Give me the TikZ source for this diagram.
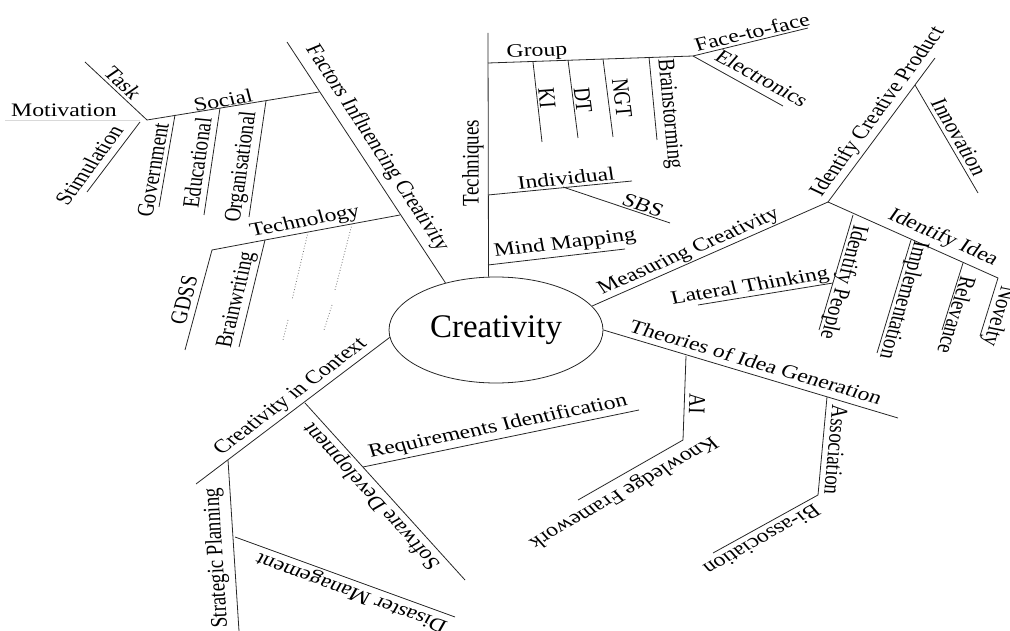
\documentclass[tikz,border=0pt]{standalone}
\usepackage{fontspec}
\setmainfont{Liberation Serif}
\usetikzlibrary{shapes.geometric}
\newcommand\labfont{\fontsize{19}{19}\selectfont}
\tikzset{
  ln/.style={draw=black!85, line width=0.8pt},
  faint/.style={draw=black!15, line width=0.8pt},
  dots/.style={draw=black!55, line width=0.8pt, dotted},
  lab/.style={inner sep=0pt, font=\labfont, xscale=1.25},
  ang/.style={rotate={atan2(sin(#1),cos(#1)/1.25)}},
}
\begin{document}
\begin{tikzpicture}[x=1pt,y=-1pt]
\useasboundingbox (0,0) rectangle (1010,631);
% centre
\node[draw=black!85, line width=0.8pt, ellipse, minimum width=214pt, minimum height=106pt, inner sep=0pt, font=\fontsize{33}{33}\selectfont] (C) at (496,330) {Creativity};

% ---------- Factors Influencing Creativity ----------
\coordinate (f1) at (287,42);
\coordinate (fs) at (319,92);
\coordinate (ft) at (400,215);
\draw[ln] (f1) -- (C.137);
\node[lab, ang=-56.8] (tFIC) at (377,148) {Factors Influencing Creativity};

\coordinate (s0) at (147,120);
\draw[ln] (s0) -- (fs);
\node[lab, ang=9.5] (tSoc) at (223,100) {Social};
\coordinate (gv1) at (175,115); \coordinate (gv2) at (159,207);
\coordinate (ed1) at (220,108); \coordinate (ed2) at (204,215);
\coordinate (or1) at (266,101); \coordinate (or2) at (249,217);
\draw[ln] (gv1) -- (gv2);
\draw[ln] (ed1) -- (ed2);
\draw[ln] (or1) -- (or2);
\node[lab, ang=80] (tGov) at (153,170) {Government};
\node[lab, ang=81.5] (tEdu) at (197,163) {Educational};
\node[lab, ang=81.7] (tOrg) at (242,167) {Organisational};

\coordinate (tk) at (85,62);
\coordinate (mv1) at (5,120); \coordinate (mv2) at (140,120);
\coordinate (st1) at (140,122); \coordinate (st2) at (87,192);
\draw[ln] (tk) -- (s0);
\draw[faint] (mv1) -- (mv2);
\draw[ln] (st1) -- (st2);
\node[lab, ang=-43] (tTask) at (123,83) {Task};
\node[lab, ang=0] (tMot) at (64,110) {Motivation};
\node[lab, ang=53.4] (tStim) at (89,165) {Stimulation};

\coordinate (tj) at (265,240);
\coordinate (gd1) at (212,250); \coordinate (gd2) at (185,350);
\coordinate (bw) at (239,347);
\draw[ln] (ft) -- (tj) -- (gd1) -- (gd2);
\draw[ln] (tj) -- (bw);
\node[lab, ang=10.5] (tTech) at (305,222) {Technology};
\node[lab, ang=75] (tGDSS) at (184,300) {GDSS};
\node[lab, ang=76.2] (tBw) at (237,300) {Brainwriting};
\coordinate (da1) at (308,232); \coordinate (da2) at (292,300);
\coordinate (da3) at (288,320); \coordinate (da4) at (283,340);
\coordinate (db1) at (352,224); \coordinate (db2) at (335,290);
\coordinate (db3) at (332,305); \coordinate (db4) at (324,330);
\draw[dots] (da1) -- (da2) (da3) -- (da4) (db1) -- (db2) (db3) -- (db4);

% ---------- Techniques ----------
\coordinate (tq) at (488,33);
\draw[ln] (tq) -- (C.98);
\node[lab, ang=90] (tTq) at (473,163) {Techniques};
\coordinate (gj) at (488,63); \coordinate (g2) at (693,56);
\draw[ln] (gj) -- (g2);
\node[lab, ang=2] (tGroup) at (537,52) {Group};
\coordinate (ff) at (808,28);
\coordinate (el) at (783,106);
\draw[ln] (g2) -- (ff);
\draw[ln] (g2) -- (el);
\node[lab, ang=13.2] (tFF) at (752,32) {Face-to-face};
\node[lab, ang=-29] (tEl) at (762,78) {Electronics};
\coordinate (ki1) at (533,62); \coordinate (ki2) at (542,142);
\coordinate (dt1) at (568,60); \coordinate (dt2) at (578,138);
\coordinate (ng1) at (603,59); \coordinate (ng2) at (613,137);
\coordinate (bs1) at (649,57); \coordinate (bs2) at (657,140);
\draw[ln] (ki1) -- (ki2);
\draw[ln] (dt1) -- (dt2);
\draw[ln] (ng1) -- (ng2);
\draw[ln] (bs1) -- (bs2);
\node[lab, ang=-83.6] (tKI) at (547,98) {KI};
\node[lab, ang=-82.7] (tDT) at (583,100) {DT};
\node[lab, ang=-82.7] (tNGT) at (622,98) {NGT};
\node[lab, ang=-84.5] (tBs) at (669,114) {Brainstorming};
\coordinate (iv1) at (488,195); \coordinate (iv2) at (632,181);
\coordinate (sb1) at (563,187); \coordinate (sb2) at (670,223);
\draw[ln] (iv1) -- (iv2);
\draw[ln] (sb1) -- (sb2);
\node[lab, ang=5.5] (tInd) at (566,178) {Individual};
\node[lab, ang=-18.6] (tSBS) at (643,205) {SBS};
\coordinate (mm1) at (488,265); \coordinate (mm2) at (625,249);
\draw[ln] (mm1) -- (mm2);
\node[lab, ang=6.7] (tMM) at (565,244) {Mind Mapping};

% ---------- Measuring Creativity ----------
\coordinate (mj) at (828,202);
\draw[ln] (C.14) -- (mj);
\node[lab, ang=23.4] (tMC) at (689,252) {Measuring Creativity};
\coordinate (lt1) at (698,305); \coordinate (lt2) at (833,283);
\draw[ln] (lt1) -- (lt2);
\node[lab, ang=9.3] (tLT) at (750,287) {Lateral Thinking};
\coordinate (ii) at (998,278);
\coordinate (nv) at (980,336);
\draw[ln] (mj) -- (ii) -- (nv);
\node[lab, ang=-24.1] (tII) at (943,238) {Identify Idea};
\coordinate (ip1) at (853,215); \coordinate (ip2) at (819,330);
\coordinate (im1) at (911,240); \coordinate (im2) at (877,353);
\coordinate (rl1) at (963,263); \coordinate (rl2) at (942,330);
\draw[ln] (ip1) -- (ip2);
\draw[ln] (im1) -- (im2);
\draw[ln] (rl1) -- (rl2);
\node[lab, ang=-106.5] (tIP) at (843,282) {Identify People};
\node[lab, ang=-106.7] (tImp) at (903,300) {Implementation};
\node[lab, ang=-107.4] (tRel) at (957,315) {Relevance};
\node[lab, ang=-107.2] (tNov) at (998,316) {Novelty};
\coordinate (icp) at (935,58);
\draw[ln] (mj) -- (icp);
\node[lab, ang=53.4] (tICP) at (878,112) {Identify Creative Product};
\coordinate (in1) at (915,85); \coordinate (in2) at (978,193);
\draw[ln] (in1) -- (in2);
\node[lab, ang=-59.7] (tInn) at (959,137) {Innovation};

% ---------- Theories of Idea Generation ----------
\coordinate (th) at (898,418);
\draw[ln] (C.-0.5) -- (th);
\node[lab, ang=-16.4] (tTh) at (756,362) {Theories of Idea Generation};
\coordinate (ai1) at (686,356); \coordinate (ai2) at (683,440);
\coordinate (kf) at (578,500);
\draw[ln] (ai1) -- (ai2) -- (kf);
\node[lab, ang=-92] (tAI) at (697,404) {AI};
\node[lab, ang=-150.3] (tKF) at (623,492) {Knowledge Framework};
\coordinate (as1) at (827,397); \coordinate (as2) at (818,495);
\coordinate (ba) at (713,553);
\draw[ln] (as1) -- (as2) -- (ba);
\node[lab, ang=-95.3] (tAs) at (836,450) {Association};
\node[lab, ang=-151] (tBa) at (762,540) {Bi-association};

% ---------- Creativity in Context ----------
\coordinate (cx) at (196,484);
\draw[ln] (C.184) -- (cx);
\node[lab, ang=37] (tCx) at (291,397) {Creativity in Context};
\coordinate (sd1) at (305,403); \coordinate (sd2) at (465,580);
\draw[ln] (sd1) -- (sd2);
\node[lab, ang=132.1] (tSD) at (372,496) {Software Development};
\coordinate (rq1) at (363,467); \coordinate (rq2) at (639,410);
\draw[ln] (rq1) -- (rq2);
\node[lab, ang=11.5] (tRq) at (498,427) {Requirements Identification};
\coordinate (sp1) at (228,460); \coordinate (sp2) at (239,631);
\draw[ln] (sp1) -- (sp2);
\node[lab, ang=93.7] (tSP) at (217,558) {Strategic Planning};
\coordinate (dm1) at (235,537); \coordinate (dm2) at (455,617);
\draw[ln] (dm1) -- (dm2);
\node[lab, ang=160] (tDM) at (352,592) {Disaster Management};
\end{tikzpicture}
\end{document}
